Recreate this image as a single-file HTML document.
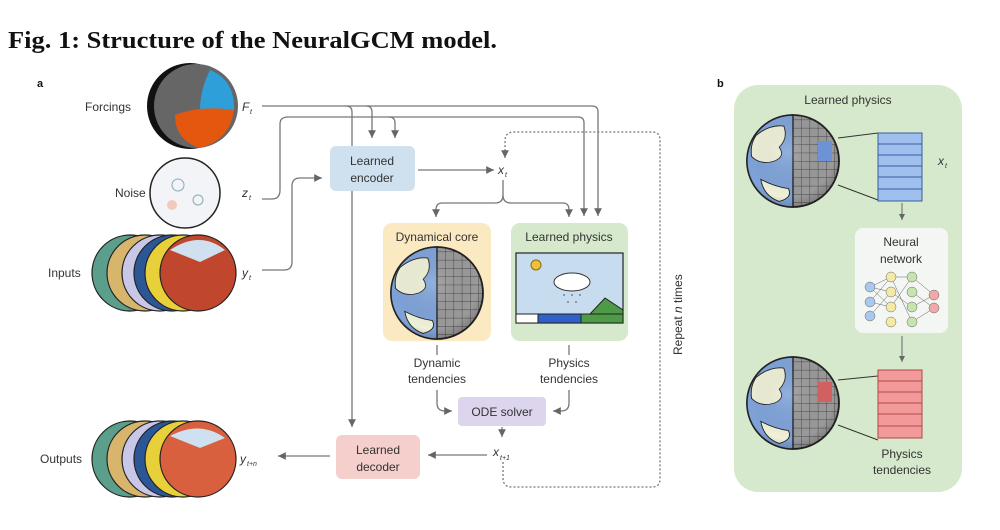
<!DOCTYPE html>
<html><head><meta charset="utf-8"><style>
body{margin:0;background:#fff;width:1000px;height:525px;overflow:hidden}
svg text{font-family:"Liberation Sans",sans-serif;fill:#333}
</style></head><body>
<svg width="1000" height="525" viewBox="0 0 1000 525" xmlns="http://www.w3.org/2000/svg">
<defs>
<marker id="a" markerWidth="8" markerHeight="8" refX="6" refY="3" orient="auto"><path d="M0,0 L6,3 L0,6 Z" fill="#666"/></marker>
<pattern id="grid" width="9" height="9" patternUnits="userSpaceOnUse"><rect width="9" height="9" fill="#9a9a9a"/><path d="M0,0 H9 M0,0 V9" stroke="#444" stroke-width="1"/></pattern>
<radialGradient id="sh" cx="0.45" cy="0.4" r="0.7"><stop offset="0" stop-color="#fff" stop-opacity="0.15"/><stop offset="0.7" stop-color="#000" stop-opacity="0"/><stop offset="1" stop-color="#000" stop-opacity="0.3"/></radialGradient>
<g id="earth">
<circle r="50" fill="url(#grid)" stroke="#222" stroke-width="2"/>
<path d="M0,-50 A50,50 0 0 0 0,50 Z" fill="#7fa3d9" stroke="#222" stroke-width="1.5"/>
<path d="M-40,-28 Q-25,-40 -10,-38 Q-5,-25 -15,-15 Q-8,-5 -20,0 Q-35,5 -45,-5 Q-47,-18 -40,-28Z" fill="#eef0d8" stroke="#222"/>
<path d="M-35,20 Q-20,28 -5,30 Q0,40 -15,44 Q-32,38 -35,20Z" fill="#eef0d8" stroke="#222"/>
<circle r="50" fill="url(#sh)"/>
</g>
</defs>
<text x="8" y="48" textLength="489" lengthAdjust="spacingAndGlyphs" style="font-family:'Liberation Serif',serif;font-weight:bold;font-size:24px;fill:#111">Fig. 1: Structure of the NeuralGCM model.</text>
<text x="37" y="87" style="font-weight:bold;font-size:11px;fill:#111">a</text>
<text x="717" y="87" style="font-weight:bold;font-size:11px;fill:#111">b</text>

<!-- left globes -->
<text x="85" y="111" font-size="12">Forcings</text>
<circle cx="190" cy="106" r="43" fill="#111"/>
<circle cx="196" cy="106" r="42" fill="#666"/>
<path d="M210,70 Q235,80 234,110 L200,110 Q200,90 210,70Z" fill="#2e9fd8"/>
<path d="M175,115 Q200,105 234,110 Q230,140 200,148 Q175,140 175,115Z" fill="#e4570f"/>
<text x="242" y="111" font-size="12" font-style="italic">F</text><text x="250" y="114" font-size="7" font-style="italic">t</text>
<text x="115" y="197" font-size="12">Noise</text>
<circle cx="185" cy="193" r="35" fill="#f2f4f8" stroke="#222" stroke-width="1.5"/>
<circle cx="178" cy="185" r="6" fill="none" stroke="#8ab" /><circle cx="198" cy="200" r="5" fill="none" stroke="#8ab"/><circle cx="172" cy="205" r="5" fill="#f3c9b9"/>
<text x="242" y="197" font-size="12" font-style="italic">z</text><text x="249" y="200" font-size="7" font-style="italic">t</text>
<text x="48" y="277" font-size="12">Inputs</text>
<g stroke="#222" stroke-width="1.2">
<circle cx="130" cy="273" r="38" fill="#5b9e8b"/><circle cx="145" cy="273" r="38" fill="#d8b56c"/><circle cx="160" cy="273" r="38" fill="#c9c7e8"/><circle cx="172" cy="273" r="38" fill="#2c5797"/><circle cx="183" cy="273" r="38" fill="#e7d03a"/><circle cx="198" cy="273" r="38" fill="#c0472e"/>
</g>
<path d="M170,250 Q200,230 225,250 L200,262 Z" fill="#cfe0f0"/>
<text x="242" y="277" font-size="12" font-style="italic">y</text><text x="249" y="280" font-size="7" font-style="italic">t</text>
<text x="40" y="463" font-size="12">Outputs</text>
<g stroke="#222" stroke-width="1.2">
<circle cx="130" cy="459" r="38" fill="#5b9e8b"/><circle cx="145" cy="459" r="38" fill="#d8b56c"/><circle cx="160" cy="459" r="38" fill="#c9c7e8"/><circle cx="172" cy="459" r="38" fill="#2c5797"/><circle cx="183" cy="459" r="38" fill="#e7d03a"/><circle cx="198" cy="459" r="38" fill="#d9603e"/>
</g>
<path d="M170,436 Q200,420 225,438 L200,448 Z" fill="#cfe0f0"/>
<text x="240" y="463" font-size="12" font-style="italic">y</text><text x="247" y="466" font-size="7" font-style="italic">t+n</text>

<!-- connectors -->
<g fill="none" stroke="#777" stroke-width="1.3">
<path d="M262,106 H592 Q598,106 598,112 V216" marker-end="url(#a)"/>
<path d="M262,199 H272 Q280,199 280,190 V124 Q280,117 288,117 H578 Q584,117 584,123 V216" marker-end="url(#a)"/>
<path d="M366,106 Q372,106 372,112 V138" marker-end="url(#a)"/>
<path d="M389,117 Q395,117 395,123 V138" marker-end="url(#a)"/>
<path d="M346,106 Q352,106 352,112 V427" marker-end="url(#a)"/>
<path d="M262,270 H284 Q292,270 292,262 V186 Q292,178 300,178 H322" marker-end="url(#a)"/>
<path d="M418,170 H494" marker-end="url(#a)"/>
<path d="M503,180 V195 Q503,203 495,203 H442 Q436,203 436,210 V217" marker-end="url(#a)"/>
<path d="M503,195 Q503,203 511,203 H563 Q569,203 569,210 V217" marker-end="url(#a)"/>
<path d="M437,345 V355 M437,390 V403 Q437,411 445,411 H452" marker-end="url(#a)"/>
<path d="M569,345 V355 M569,390 V403 Q569,411 561,411 H553" marker-end="url(#a)"/>
<path d="M502,427 V437" marker-end="url(#a)"/>
<path d="M487,455 H428" marker-end="url(#a)"/>
<path d="M330,456 H278" marker-end="url(#a)"/>
<path d="M503,462 V478 Q503,487 512,487 H652 Q660,487 660,479 V140 Q660,132 652,132 H514 Q505,132 505,141 V158" stroke-dasharray="2,2" marker-end="url(#a)"/>
</g>

<!-- boxes -->
<rect x="330" y="146" width="85" height="45" rx="6" fill="#cfe0ef"/>
<text x="372" y="165" font-size="12" text-anchor="middle">Learned</text><text x="372" y="182" font-size="12" text-anchor="middle">encoder</text>
<text x="498" y="174" font-size="12" font-style="italic">x</text><text x="505" y="177" font-size="7" font-style="italic">t</text>
<rect x="383" y="223" width="108" height="118" rx="9" fill="#fbe9c2"/>
<text x="437" y="241" font-size="12" text-anchor="middle">Dynamical core</text>
<use href="#earth" transform="translate(437,293) scale(0.92)"/>
<rect x="511" y="223" width="117" height="118" rx="9" fill="#d6e9cc"/>
<text x="569" y="241" font-size="12" text-anchor="middle">Learned physics</text>
<rect x="516" y="253" width="107" height="70" fill="#c8dcef" stroke="#222" stroke-width="1.2"/>
<rect x="516" y="314" width="22" height="9" fill="#fff" stroke="#222"/><rect x="538" y="314" width="43" height="9" fill="#2f62c8" stroke="#222"/><rect x="581" y="314" width="42" height="9" fill="#4d9a47" stroke="#222"/>
<path d="M590,314 L605,298 L623,310 V314Z" fill="#4d9a47" stroke="#222"/>
<circle cx="536" cy="265" r="5" fill="#f0c23a" stroke="#8a6a10"/>
<ellipse cx="572" cy="282" rx="18" ry="9" fill="#fff" stroke="#333"/>
<path d="M564,294 v4 M572,294 v4 M580,294 v4 M568,301 v4 M576,301 v4" stroke="#555" stroke-dasharray="2,2"/>
<text x="437" y="367" font-size="12" text-anchor="middle">Dynamic</text><text x="437" y="383" font-size="12" text-anchor="middle">tendencies</text>
<text x="569" y="367" font-size="12" text-anchor="middle">Physics</text><text x="569" y="383" font-size="12" text-anchor="middle">tendencies</text>
<rect x="458" y="397" width="88" height="29" rx="4" fill="#ddd5ee"/>
<text x="502" y="416" font-size="12" text-anchor="middle">ODE solver</text>
<rect x="336" y="435" width="84" height="44" rx="6" fill="#f5cfcc"/>
<text x="378" y="454" font-size="12" text-anchor="middle">Learned</text><text x="378" y="471" font-size="12" text-anchor="middle">decoder</text>
<text x="493" y="456" font-size="12" font-style="italic">x</text><text x="500" y="460" font-size="7" font-style="italic">t+1</text>
<text transform="translate(682,355) rotate(-90)" font-size="12">Repeat <tspan font-style="italic">n</tspan> times</text>

<!-- panel b -->
<rect x="734" y="85" width="228" height="407" rx="24" fill="#d6e9cc"/>
<text x="848" y="104" font-size="12" text-anchor="middle">Learned physics</text>
<use href="#earth" transform="translate(793,161) scale(0.92)"/>
<rect x="818" y="141" width="14" height="20" fill="#6d93d6"/>
<path d="M838,138 L878,133 M838,185 L878,200" stroke="#333"/>
<g stroke="#3a5d9c"><rect x="878" y="133" width="44" height="68" fill="#9fc0ef"/><path d="M878,144 H922 M878,155 H922 M878,166 H922 M878,177 H922 M878,189 H922"/></g>
<text x="938" y="165" font-size="12" font-style="italic">x</text><text x="945" y="168" font-size="7" font-style="italic">t</text>
<path d="M902,203 V220" stroke="#666" marker-end="url(#a)"/>
<rect x="855" y="228" width="93" height="105" rx="8" fill="#f4f6f3"/>
<text x="901" y="246" font-size="12" text-anchor="middle">Neural</text><text x="901" y="263" font-size="12" text-anchor="middle">network</text>
<g stroke="#666" stroke-width="0.5">
<path d="M870,287 L891,277 M870,287 L891,292 M870,287 L891,307 M870,302 L891,277 M870,302 L891,307 M870,316 L891,292 M891,277 L912,277 M891,292 L912,307 M891,307 L912,277 M891,277 L912,322 M912,277 L934,295 M912,292 L934,308 M912,307 L934,295 M912,322 L934,308"/>
<circle cx="870" cy="287" r="5" fill="#a9c7ef"/><circle cx="870" cy="302" r="5" fill="#a9c7ef"/><circle cx="870" cy="316" r="5" fill="#a9c7ef"/>
<circle cx="891" cy="277" r="5" fill="#f4eaa5"/><circle cx="891" cy="292" r="5" fill="#f4eaa5"/><circle cx="891" cy="307" r="5" fill="#f4eaa5"/><circle cx="891" cy="322" r="5" fill="#f4eaa5"/>
<circle cx="912" cy="277" r="5" fill="#c7e3b0"/><circle cx="912" cy="292" r="5" fill="#c7e3b0"/><circle cx="912" cy="307" r="5" fill="#c7e3b0"/><circle cx="912" cy="322" r="5" fill="#c7e3b0"/>
<circle cx="934" cy="295" r="5" fill="#f1a8a8"/><circle cx="934" cy="308" r="5" fill="#f1a8a8"/>
</g>
<path d="M902,336 V362" stroke="#666" marker-end="url(#a)"/>
<use href="#earth" transform="translate(793,403) scale(0.92)"/>
<rect x="818" y="382" width="14" height="20" fill="#d26060"/>
<path d="M838,380 L878,376 M838,425 L878,440" stroke="#333"/>
<g stroke="#b04848"><rect x="878" y="370" width="44" height="68" fill="#f29a9a"/><path d="M878,381 H922 M878,392 H922 M878,403 H922 M878,414 H922 M878,426 H922"/></g>
<text x="902" y="458" font-size="12" text-anchor="middle">Physics</text><text x="902" y="474" font-size="12" text-anchor="middle">tendencies</text>
</svg>
</body></html>
